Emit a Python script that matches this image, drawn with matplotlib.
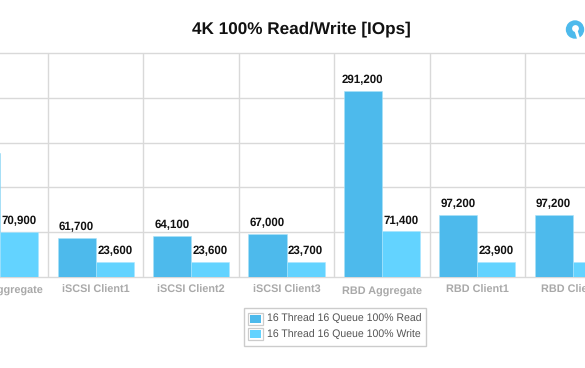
import matplotlib
matplotlib.use("Agg")
import matplotlib.pyplot as plt
from matplotlib.patches import Patch, Circle, Rectangle
from matplotlib.legend_handler import HandlerBase
import numpy as np

plt.rcParams['font.family'] = ['Liberation Sans', 'DejaVu Sans']
plt.rcParams['text.hinting'] = 'none'
plt.rcParams['text.hinting_factor'] = 8

categories = ["iSCSI Aggregate", "iSCSI Client1", "iSCSI Client2", "iSCSI Client3",
              "RBD Aggregate", "RBD Client1", "RBD Client2"]
read_values = [193000, 61700, 64100, 67000, 291200, 97200, 97200]
write_values = [70900, 23600, 23600, 23700, 71400, 23900, 23900]
series_names = ["16 Thread 16 Queue 100% Read", "16 Thread 16 Queue 100% Write"]
y_ticks = [0, 70000, 140000, 210000, 280000, 350000]
title = "4K 100% Read/Write [IOps]"

READ = "#4DBAEC"
WRITE = "#63D3FF"
GRID = "#D9D9D9"

W, H = 585, 368
fig = plt.figure(figsize=(W / 100, H / 100), dpi=100)
top, base = 53.0, 277.0
ax = fig.add_axes([0, 1 - base / H, 1, (base - top) / H])

x = np.arange(len(categories))
bw = 0.4
b1 = ax.bar(x - bw / 2, read_values, bw, color=READ, edgecolor="#A9E2F7", linewidth=0.4, zorder=3)
b2 = ax.bar(x + bw / 2, write_values, bw, color=WRITE, edgecolor="#A9E6FF", linewidth=0.4, zorder=3)

lab = dict(fontsize=8.3, fontweight="bold", color="#111111", padding=3.6, zorder=4)
ax.bar_label(b1, labels=[f"{v:,}" for v in read_values], **lab)
ax.bar_label(b2, labels=[f"{v:,}" for v in write_values], **lab)

# px = 0.3 + 95.4 * idx
ax.set_xlim(-0.3 / 95.4, (W - 0.3) / 95.4)
ax.set_ylim(0, 350000)
ax.set_yticks(y_ticks)
ax.set_xticks(x)
ax.set_xticklabels(categories, fontsize=7.8, fontweight="bold", color="#A9A9A9")
ax.set_xticks(x[:-1] + 0.5, minor=True)
ax.tick_params(axis="both", which="both", length=0, labelleft=False)
ax.tick_params(axis="x", which="major", pad=11.7)
for lbl in ax.get_xticklabels():
    lbl.set_verticalalignment("baseline")
ax.grid(axis="y", which="major", color=GRID, linewidth=1, zorder=1, clip_on=False)
ax.grid(axis="x", which="minor", color=GRID, linewidth=1, zorder=1)
ax.grid(axis="x", which="major", visible=False)
ax.set_axisbelow(True)
for s in ax.spines.values():
    s.set_visible(False)

fig.text(301 / W, 1 - 29 / H, title, ha="center", va="center",
         fontsize=12.3, fontweight="bold", color="#111111")


class FramedSwatch(HandlerBase):
    def create_artists(self, legend, orig, xd, yd, width, height, fontsize, trans):
        outer = Rectangle((-xd, -yd), width, height, facecolor="white",
                          edgecolor="#CCCCCC", linewidth=0.9, transform=trans)
        inner = Rectangle((-xd + 1.6, -yd + 1.6), width - 3.2, height - 3.2,
                          facecolor=orig.get_facecolor(), edgecolor="none", transform=trans)
        return [outer, inner]


fig.add_artist(Rectangle((243.5 / W, 1 - 345.5 / H), 182 / W, 38 / H, transform=fig.transFigure,
                         facecolor="white", edgecolor="#CCCCCC", linewidth=1))
handles = [Patch(facecolor=READ), Patch(facecolor=WRITE)]
leg = fig.legend(handles, series_names, loc="center", bbox_to_anchor=(334.5 / W, 1 - 326.5 / H),
                 fontsize=7.6, frameon=False,
                 handler_map={Patch: FramedSwatch()},
                 handlelength=1.43, handleheight=1.43, handletextpad=0.38, labelspacing=0.3,
                 borderpad=0, borderaxespad=0, labelcolor="#555555")

# logo
logo = fig.add_axes([0, 0, 1, 1], zorder=5)
logo.set_xlim(0, W); logo.set_ylim(H, 0); logo.axis("off"); logo.patch.set_alpha(0)
logo.add_patch(Circle((575, 29.5), 9.2, facecolor=READ, edgecolor="none"))
logo.add_patch(Circle((575.5, 28.5), 3.4, facecolor="white", edgecolor="none"))
logo.plot([575.5, 579], [29, 40], color="white", lw=2.2, solid_capstyle="butt")

fig.savefig("out.png", dpi=100)
